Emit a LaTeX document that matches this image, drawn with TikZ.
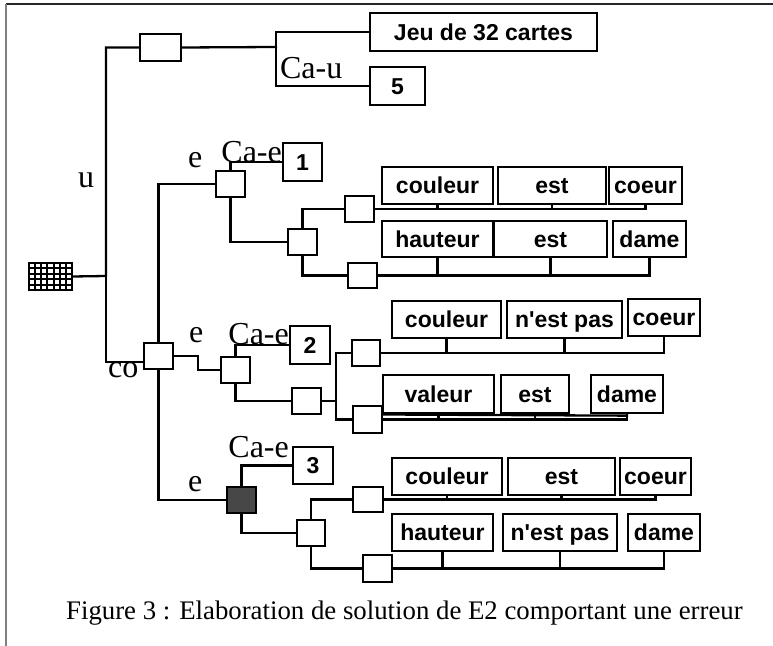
\documentclass[tikz,border=0pt]{standalone}
\usepackage{fontspec}
\setmainfont{Liberation Serif}
\newfontfamily\boxfont{Liberation Sans}
\usetikzlibrary{fit,calc}
\begin{document}
\begin{tikzpicture}[x=0.5pt,y=-0.5pt,line width=1.15pt,
  bx/.style={draw,line width=1.15pt,inner sep=0pt},
  tx/.style={bx,label={[txt]center:#1}},
  txt/.style={inner sep=0pt,text height=8.3pt,text depth=0pt,font=\boxfont\bfseries\fontsize{11.5}{13}\selectfont},
  lbl/.style={inner sep=0pt,font=\fontsize{16}{18}\selectfont},
  wire/.style={line width=1.15pt,line cap=rect}]
\useasboundingbox (0,0) rectangle (773,646);
% frame
\draw[line width=1pt,black!85] (6,4) -- (773,4);
\draw[line width=1pt,black!50] (6,4) -- (6,646);

% root grid box
\node[bx,line width=1.3pt,fit={(29,263)(72,290)}] (root) {};
\foreach \k in {1,...,6} {\draw[line width=1pt] ({29+\k*6.14},263) -- ({29+\k*6.14},290);}
\foreach \k in {1,...,4} {\draw[line width=1pt] (29,{263+\k*5.4}) -- (72,{263+\k*5.4});}

% top branch
\node[bx,fit={(140,34)(181,61)}] (bu) {};
\node[tx={Jeu de 32 cartes},fit={(370,13)(597,51)}] (jeu) {};
\node[tx=5,fit={(370,67)(425,105)}] (five) {};

% co node
\node[bx,fit={(144,343)(173,369)}] (co) {};

% branch 1
\node[bx,fit={(216,171)(245,197)}] (e1) {};
\node[tx=1,fit={(283,143)(322,181)}] (n1) {};
\node[bx,fit={(288,229)(317,255)}] (s1) {};
\node[bx,fit={(345,196)(374,222)}] (s1a) {};
\node[bx,fit={(348,263)(377,288)}] (s1b) {};
\node[tx=couleur,fit={(382,167)(493,204)}] (r1a) {};
\node[tx=est,fit={(498,167)(606,204)}] (r1b) {};
\node[tx=coeur,fit={(609,167)(682,204)}] (r1c) {};
\node[tx=hauteur,fit={(382,221)(493,257)}] (r2a) {};
\node[tx=est,fit={(494,221)(607,257)}] (r2b) {};
\node[tx=dame,fit={(613,221)(686,257)}] (r2c) {};

% branch 2
\node[bx,fit={(221,357)(250,383)}] (e2) {};
\node[tx=2,fit={(290,326)(330,364)}] (n2) {};
\node[bx,fit={(292,388)(321,414)}] (s2) {};
\node[bx,fit={(352,340)(380,366)}] (s2a) {};
\node[bx,fit={(353,406)(382,433)}] (s2b) {};
\node[tx=couleur,fit={(392,301)(501,338)}] (r3a) {};
\node[tx={n'est pas},fit={(507,301)(622,338)}] (r3b) {};
\node[tx=coeur,fit={(628,299)(700,336)}] (r3c) {};
\node[tx=valeur,fit={(383,375)(494,413)}] (r4a) {};
\node[tx=est,fit={(501,375)(569,413)}] (r4b) {};
\node[tx=dame,fit={(591,375)(663,413)}] (r4c) {};

% branch 3
\node[bx,fill=black!72,fit={(227,487)(256,513)}] (e3) {};
\node[tx=3,fit={(293,447)(333,484)}] (n3) {};
\node[bx,fit={(297,520)(325,546)}] (s3) {};
\node[bx,fit={(353,487)(383,512)}] (s3a) {};
\node[bx,fit={(363,555)(392,582)}] (s3b) {};
\node[tx=couleur,fit={(392,458)(502,495)}] (r5a) {};
\node[tx=est,fit={(508,458)(615,495)}] (r5b) {};
\node[tx=coeur,fit={(620,458)(691,495)}] (r5c) {};
\node[tx=hauteur,fit={(392,514)(493,551)}] (r6a) {};
\node[tx={n'est pas},fit={(503,514)(617,551)}] (r6b) {};
\node[tx=dame,fit={(628,514)(700,551)}] (r6c) {};

% labels
\node[lbl,anchor=base west] (lu) at (77,188) {u};
\node[lbl,anchor=base west] (lco) at (107,378) {co};
\node[lbl,anchor=base west] (lcu) at (279,79) {Ca-u};
\node[lbl,anchor=base west] (le1) at (187,168) {e};
\node[lbl,anchor=base west] (le2) at (188,343) {e};
\node[lbl,anchor=base west] (le3) at (187,492) {e};
\node[lbl,anchor=base east] (lc1) at (283,163) {Ca-e};
\node[lbl,anchor=base east] (lc2) at (290,345) {Ca-e};
\node[lbl,anchor=base east] (lc3) at (290,458) {Ca-e};

% caption
\node[anchor=base west,inner sep=0pt,font=\fontsize{13.4}{16}\selectfont] (cap) at (65,620)
  {Figure 3 : Elaboration de solution de E2 comportant une erreur};

% connectors
\coordinate (j0) at (106,276);
\draw[wire] (root.east) -- (j0) |- (bu.west);
\draw[wire] (j0) |- ($(co.west)+(0,6)$);
\coordinate (jb) at (276,47);
\draw[wire] (bu.east) -- (jb);
\draw[wire] (jeu.west) -| (jb) |- (five.west);

\draw[wire] (co.north) |- (e1.west);
\draw[wire] (co.south) |- (e3.west);
\draw[wire] (co.east) -- ++(24,0) |- (e2.west);

% branch 1 wires
\draw[wire] (e1.north) |- (n1.west);
\draw[wire] (e1.south) |- (s1.west);
\draw[wire] (s1.north) |- (s1a.west);
\draw[wire] (s1.south) |- (s1b.west);
\draw[wire] (s1a.east) -| (r1c.south);
\draw[wire] (r1a.south) -- (r1a.south |- s1a.east);
\draw[wire] (r1b.south) -- (r1b.south |- s1a.east);
\draw[wire] (s1b.east) -| (r2c.south);
\draw[wire] (r2a.south) -- (r2a.south |- s1b.east);
\draw[wire] (r2b.south) -- (r2b.south |- s1b.east);

% branch 2 wires
\draw[wire] (e2.north) |- (n2.west);
\draw[wire] (e2.south) |- (s2.west);
\coordinate (j2) at (336,401);
\draw[wire] (s2.east) -- (j2);
\draw[wire] (s2a.west) -| (j2) |- (s2b.west);
\draw[wire] (s2a.east) -| (r3c.south);
\draw[wire] (r3a.south) -- (r3a.south |- s2a.east);
\draw[wire] (r3b.south) -- (r3b.south |- s2a.east);
\draw[wire] (s2b.east) -| (r4c.south);
\draw[wire] (r4a.south) -- (r4a.south |- s2b.east);
\draw[wire] (r4b.south) -- (r4b.south |- s2b.east);
\draw[wire] ($(s2b.east)+(0,-5)$) -- ($(r4c.south)+(0,1.5)$);

% branch 3 wires
\draw[wire] (e3.north) |- (n3.west);
\draw[wire] (e3.south) |- (s3.west);
\draw[wire] (s3.north) |- (s3a.west);
\draw[wire] (s3.south) |- (s3b.west);
\draw[wire] (s3a.east) -| (r5c.south);
\draw[wire] (r5a.south) -- (r5a.south |- s3a.east);
\draw[wire] (r5b.south) -- (r5b.south |- s3a.east);
\draw[wire] (s3b.east) -| (r6c.south);
\draw[wire] (r6a.south) -- (r6a.south |- s3b.east);
\draw[wire] (r6b.south) -- (r6b.south |- s3b.east);
\end{tikzpicture}
\end{document}
